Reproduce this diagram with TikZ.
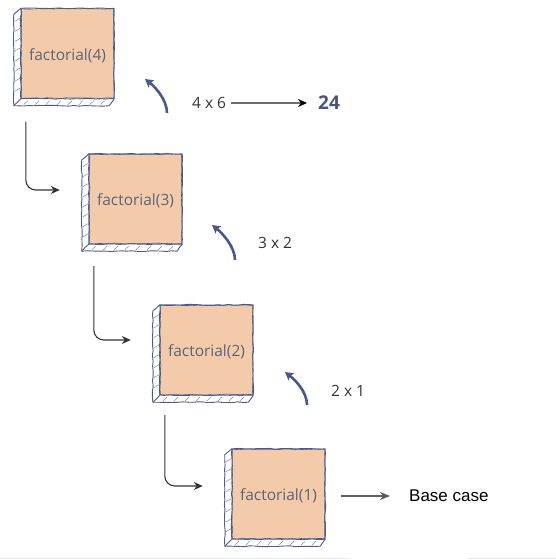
\documentclass[tikz,border=0pt]{standalone}
\usepackage{fontspec}
\setmainfont{Open Sans}
\newfontfamily\arialfont{Liberation Sans}
\usetikzlibrary{arrows.meta,decorations.pathmorphing,calc}

\definecolor{boxfill}{HTML}{F4CBAA}
\definecolor{boxline}{HTML}{4E5A88}
\definecolor{labeltext}{HTML}{5C6378}
\definecolor{returnblue}{HTML}{4A5887}
\definecolor{darktext}{HTML}{333333}
\definecolor{resultblue}{HTML}{4A5578}
\definecolor{faintline}{HTML}{E6EAEF}

% label sits a little below the middle of its box
\newcommand{\calltext}[1]{\raisebox{-3pt}[0.75em][0.25em]{#1}}

\tikzset{
  callbox/.style={minimum width=93pt, minimum height=90pt, inner sep=0pt,
    fill=boxfill, text=labeltext, font=\fontsize{15.5}{18}\selectfont},
  sketch/.style={draw=boxline, line width=0.9pt, line join=round,
    decorate, decoration={random steps, segment length=5pt, amplitude=0.45pt}},
  hatch/.style={draw=boxline!70, line width=0.5pt, line cap=round,
    decorate, decoration={random steps, segment length=2pt, amplitude=0.3pt}},
  callarrow/.style={draw=darktext, line width=1.1pt, rounded corners=10pt,
    -{Stealth[length=9pt,width=8pt]}},
  returnarrow/.style={draw=returnblue, line width=2.6pt,
    -{Stealth[length=8pt,width=9pt,inset=1.5pt]}},
  steplabel/.style={inner sep=0pt, text=darktext, font=\fontsize{15.5}{18}\selectfont},
  resultarrow/.style={draw=gray!85!black, line width=1.5pt,
    -{Stealth[length=9pt,width=8pt,color=black]}},
  basearrow/.style={draw=darktext!80, line width=1.1pt,
    -{Stealth[length=10pt,width=8pt]}},
}

\begin{document}
\begin{tikzpicture}[x=1pt, y=-1pt]
\useasboundingbox (0,0) rectangle (556,560);

% faint rule along the bottom edge
\draw[faintline, line width=1pt] (0,558.5) -- (350,558.5) (467,558.5) -- (556,558.5);

% the four recursive calls
\node[callbox] (f4) at (67.5,53.5)  {\calltext{factorial(4)}};
\node[callbox] (f3) at (135.5,199)  {\calltext{factorial(3)}};
\node[callbox] (f2) at (206.5,350)  {\calltext{factorial(2)}};
\node[callbox] (f1) at (278.5,494)  {\calltext{factorial(1)}};

% hand-drawn outlines with a shallow extruded side
\foreach \b in {f4,f3,f2,f1}{
  \fill[white] (\b.north west) -- ++(-7,6) -- ($(\b.south west)+(-7,7)$)
    -- ($(\b.south east)+(-5,7)$) -- (\b.south east) -- (\b.south west) -- cycle;
  \foreach \i in {0,...,7}
    \draw[hatch] ($(\b.north west)+(-6,13+\i*10)$) -- ++(5,-3);
  \foreach \i in {0,...,7}
    \draw[hatch] ($(\b.south west)+(3+\i*11,6)$) -- ++(4,-4);
  \draw[sketch] (\b.north west) -- ++(-7,6) -- ($(\b.south west)+(-7,7)$)
    -- ($(\b.south east)+(-5,7)$) -- (\b.south east);
  \draw[sketch] (\b.south west) -- ++(-7,7);
  \draw[sketch] (\b.north west) rectangle (\b.south east);
  \draw[sketch, line width=0.6pt] ($(\b.north west)+(0.6,0.5)$) rectangle ($(\b.south east)+(-0.5,-0.6)$);
}

% calls going down
\draw[callarrow] ($(f4.south west)+(5,23)$) |- ($(f3.west)+(-29,-9)$);
\draw[callarrow] ($(f3.south west)+(5,22)$) |- ($(f2.west)+(-29,-10)$);
\draw[callarrow] ($(f2.south west)+(5,20)$) |- ($(f1.west)+(-29,-8)$);

% results returned upwards
\coordinate (r4s) at (167,113); \coordinate (r4e) at (145,79);
\coordinate (r3s) at (235,260); \coordinate (r3e) at (212,225);
\coordinate (r2s) at (307,405); \coordinate (r2e) at (285,372);
\draw[returnarrow] (r4s) .. controls +(0,-14) and +(9,7) .. (r4e);
\draw[returnarrow] (r3s) .. controls +(0,-14) and +(9,7) .. (r3e);
\draw[returnarrow] (r2s) .. controls +(0,-14) and +(9,7) .. (r2e);

\node[steplabel, anchor=west] (m4) at (192,103) {4 x 6};
\node[steplabel, anchor=west] (m3) at (258,243) {3 x 2};
\node[steplabel, anchor=west] (m2) at (331,391) {2 x 1};

\node[inner sep=0pt, anchor=west, text=resultblue,
      font=\fontsize{19}{22}\selectfont\bfseries] (res) at (318,103) {24};
\draw[resultarrow] ($(m4.east)+(5,0)$) -- ($(res.west)+(-11,0)$);

\node[inner sep=0pt, anchor=west, text=black,
      font=\arialfont\fontsize{17}{20}\selectfont] (base) at (409,496) {Base case};
\draw[basearrow] ($(f1.east)+(16,2)$) -- ($(base.west)+(-19,0)$);
\end{tikzpicture}
\end{document}
